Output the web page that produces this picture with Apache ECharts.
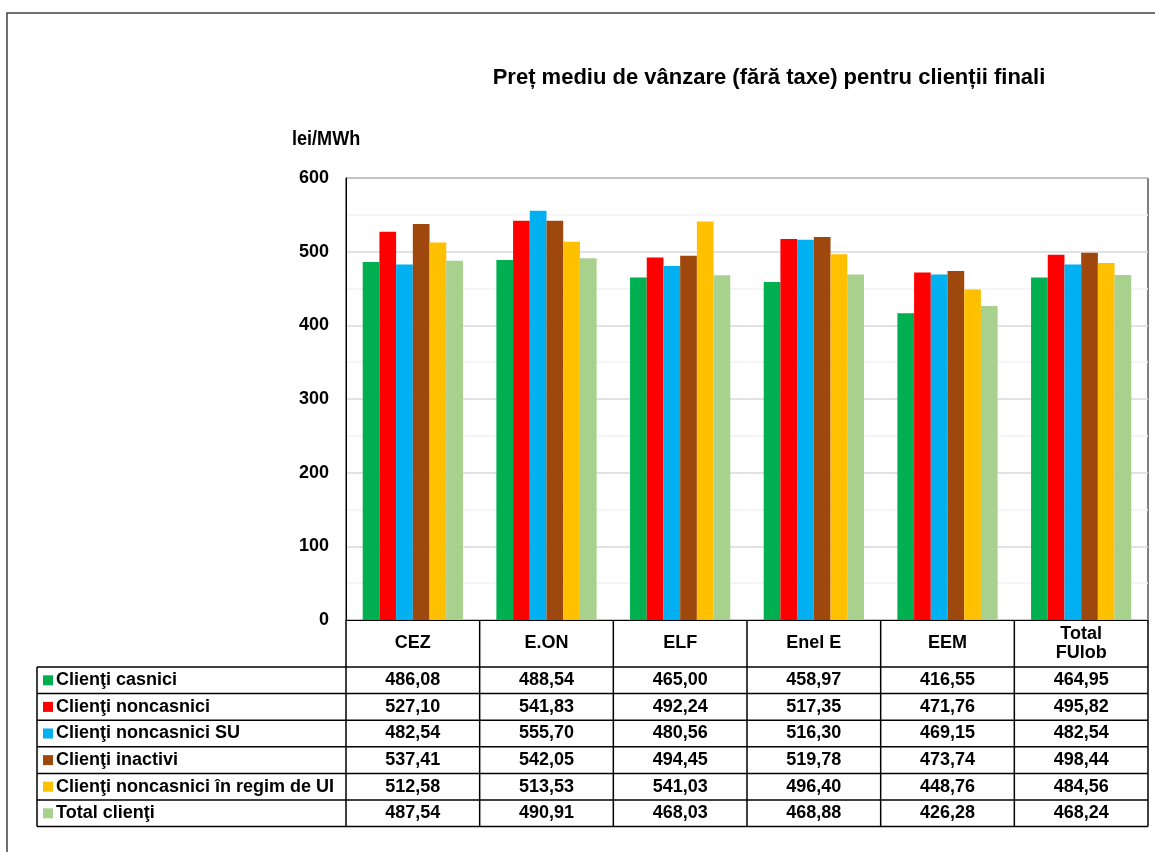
<!DOCTYPE html>
<html><head><meta charset="utf-8">
<script src="https://cdn.jsdelivr.net/npm/echarts@6/dist/echarts.min.js"></script>
<style>html,body{margin:0;padding:0;background:#fff}#c{width:1155px;height:852px}</style>
</head><body><div id="c"></div>
<script>
const categories = ['CEZ', 'E.ON', 'ELF', 'Enel E', 'EEM', 'Total\nFUlob'];
const seriesNames = ['Clienţi casnici', 'Clienţi noncasnici', 'Clienţi noncasnici SU', 'Clienţi inactivi', 'Clienţi noncasnici în regim de UI', 'Total clienţi'];
const casnici = [486.08, 488.54, 465.00, 458.97, 416.55, 464.95];
const noncasnici = [527.10, 541.83, 492.24, 517.35, 471.76, 495.82];
const noncasniciSU = [482.54, 555.70, 480.56, 516.30, 469.15, 482.54];
const inactivi = [537.41, 542.05, 494.45, 519.78, 473.74, 498.44];
const noncasniciUI = [512.58, 513.53, 541.03, 496.40, 448.76, 484.56];
const totalClienti = [487.54, 490.91, 468.03, 468.88, 426.28, 468.24];
const yTicks = [0, 100, 200, 300, 400, 500, 600];

const allData = [casnici, noncasnici, noncasniciSU, inactivi, noncasniciUI, totalClienti];
const colors = ['#00B050', '#FF0000', '#00B0F0', '#9E480E', '#FFC000', '#A9D18E'];
const FONT = '"Liberation Sans", Arial, sans-serif';

const chart = echarts.init(document.getElementById('c'));
const GL = 346, GR = 7, GT = 178, GB = 232;
chart.setOption({
  animation: false,
  backgroundColor: '#fff',
  title: {
    text: 'Preț mediu de vânzare (fără taxe) pentru clienții finali',
    left: 764, top: 62, textAlign: 'center',
    textStyle: { fontFamily: FONT, fontWeight: 'bold', fontSize: 22, color: '#000' }
  },
  grid: { left: GL, right: GR, top: GT, bottom: GB, show: true, borderColor: '#000', borderWidth: 1 },
  xAxis: {
    type: 'category', data: categories,
    axisLine: { show: true, lineStyle: { color: '#000' } },
    axisTick: { show: false }, axisLabel: { show: false }
  },
  yAxis: {
    type: 'value', min: yTicks[0], max: yTicks[yTicks.length - 1], interval: 100,
    axisLine: { show: true, lineStyle: { color: '#000' } },
    axisTick: { show: false },
    axisLabel: { fontFamily: FONT, fontWeight: 'bold', fontSize: 18, color: '#000', margin: 17 },
    splitLine: { show: true, lineStyle: { color: '#D9D9D9', width: 1.5 } },
    minorTick: { show: false, splitNumber: 2 },
    minorSplitLine: { show: true, lineStyle: { color: '#F2F2F2', width: 1.5 } }
  },
  series: allData.map((d, i) => ({
    name: seriesNames[i], type: 'bar', data: d,
    barGap: '0%', barCategoryGap: '25%',
    itemStyle: { color: colors[i] }
  }))
});

// data table below the chart
function fmt(v) { return v.toFixed(2).replace('.', ','); }
const n = categories.length;
const plotL = GL, plotR = 1155 - GR, axisY = 852 - GB;
const colW = (plotR - plotL) / n;
const headerB = 667;
const rowH = 26.6;
const tableL = 37;
const g = [];
const lineStyle = { stroke: '#000', lineWidth: 1.5 };
const cellText = { fontFamily: FONT, fontWeight: 'bold', fontSize: 18, fill: '#000' };
// y-axis unit (condensed look)
g.push({ type: 'text', x: 292, y: 139, scaleX: 0.86, style: { text: 'lei/MWh', fontFamily: FONT, fontWeight: 'bold', fontSize: 21, fill: '#000', align: 'left', verticalAlign: 'middle' } });
// header labels & vertical lines
for (let i = 0; i < n; i++) {
  const cx = chart.convertToPixel({ xAxisIndex: 0 }, i);
  g.push({ type: 'text', x: cx, y: (axisY + headerB) / 2, style: Object.assign({
    text: categories[i], align: 'center', verticalAlign: 'middle', lineHeight: 19 }, cellText) });
}
const bottom = headerB + rowH * seriesNames.length;
for (let i = 0; i <= n; i++) {
  const x = plotL + colW * i;
  g.push({ type: 'line', shape: { x1: x, y1: axisY, x2: x, y2: bottom }, style: lineStyle });
}
g.push({ type: 'line', shape: { x1: tableL, y1: headerB, x2: tableL, y2: bottom }, style: lineStyle });
for (let r = 0; r <= seriesNames.length; r++) {
  const y = headerB + rowH * r;
  g.push({ type: 'line', shape: { x1: tableL, y1: y, x2: plotR, y2: y }, style: lineStyle });
}
for (let r = 0; r < seriesNames.length; r++) {
  const cy = headerB + rowH * (r + 0.5);
  g.push({ type: 'rect', shape: { x: 43, y: cy - 5, width: 10, height: 10 }, style: { fill: colors[r] } });
  g.push({ type: 'text', x: 56, y: cy, style: Object.assign({ text: seriesNames[r], align: 'left', verticalAlign: 'middle' }, cellText) });
  for (let i = 0; i < n; i++) {
    const cx = chart.convertToPixel({ xAxisIndex: 0 }, i);
    g.push({ type: 'text', x: cx, y: cy, style: Object.assign({ text: fmt(allData[r][i]), align: 'center', verticalAlign: 'middle' }, cellText) });
  }
}
// outer frame
g.push({ type: 'rect', shape: { x: 7, y: 13, width: 1200, height: 900 }, style: { fill: 'none', stroke: '#404040', lineWidth: 1.5 }, z: 100 });
chart.setOption({ graphic: g });
</script></body></html>
